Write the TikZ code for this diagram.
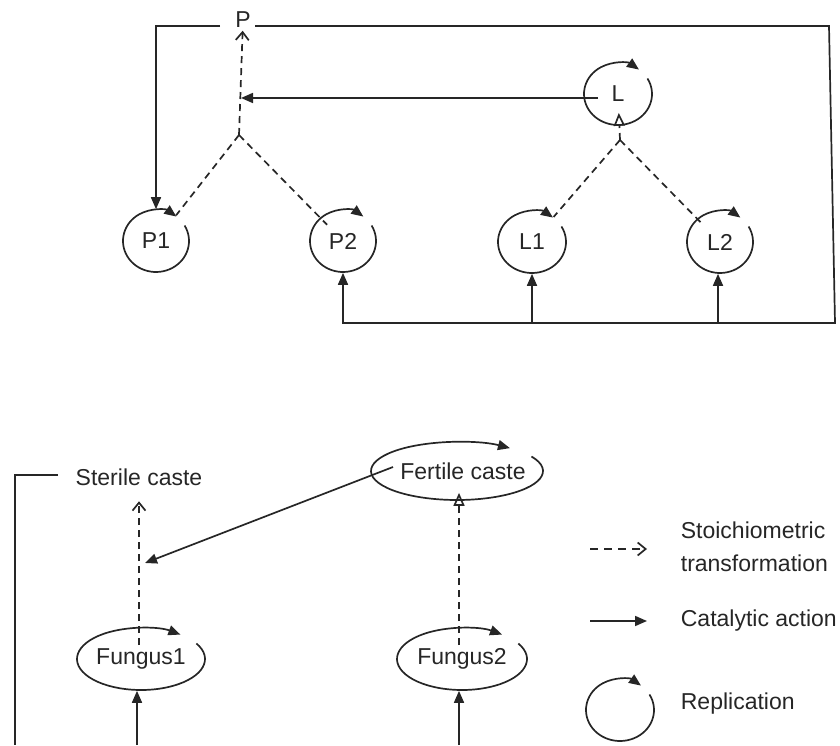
\documentclass[tikz,border=0pt]{standalone}
\usepackage{fontspec}
\setmainfont{Liberation Sans}
\usetikzlibrary{arrows.meta,shapes.geometric}

% replication loop round a node: clockwise arc with a gap at the upper right
\newcommand\replarc[3]{%
  \draw[-{Triangle[length=12pt,width=10pt]}]
    ([shift={(30:#2 and #3)}]#1.center)
    arc[start angle=30, end angle=-308, x radius=#2, y radius=#3];}

\begin{document}
\begin{tikzpicture}[x=1pt,y=1pt,
  line width=1.7pt, color=black!85,
  lbl/.style={font=\fontsize{23}{28}\selectfont, inner sep=2pt},
  rep/.style={lbl, ellipse, inner sep=0pt},
  cat/.style={draw, -{Triangle[length=12pt,width=10pt]}},
  stoich/.style={draw, dash pattern=on 7pt off 5pt},
  stoichto/.style={stoich, -{Straight Barb[length=8pt,width=13pt]}},
  stoichtri/.style={stoich, -{Triangle[open,length=13pt,width=11pt]}},
]
\useasboundingbox (0,0) rectangle (840,745);

% ---------- upper network ----------
\node[lbl] (P) at (243,725) {P};
\node[rep, minimum width=68pt, minimum height=62pt] (L)  at (618,651) {L};
\node[rep, minimum width=66pt, minimum height=62pt] (P1) at (156,504) {P1};
\node[rep, minimum width=66pt, minimum height=62pt] (P2) at (343,504) {P2};
\node[rep, minimum width=68pt, minimum height=62pt] (L1) at (532,503) {L1};
\node[rep, minimum width=66pt, minimum height=62pt] (L2) at (720,503) {L2};

\replarc{L}{34}{31}
\replarc{P1}{33}{31}
\replarc{P2}{33}{31}
\replarc{L1}{34}{31}
\replarc{L2}{33}{31}

\coordinate (bp) at (239,610);
\coordinate (pm) at (241,647);
\coordinate (bl) at (620,605);
\coordinate (pl) at (220,719);
\coordinate (pr) at (255,719);
\coordinate (tr) at (829,719);
\coordinate (br) at (835,422);

% stoichiometric transformations
\draw[stoichto] (bp) -- (P);
\draw[stoich] (bp) -- (P1);
\draw[stoich, shorten >=-10pt] (bp) -- (P2);
\draw[stoichtri, shorten >=-13pt] (bl) -- (L);
\draw[stoich] (bl) -- (L1);
\draw[stoich, shorten >=-6pt] (bl) -- (L2);

% catalytic actions
\draw[cat] ([xshift=-20pt,yshift=-4pt]L.center) -- (pm);
\draw[cat] (pl) -| (P1.north);
\draw[cat] (pr) -- (tr) -- (br) -| (P2.south);
\draw[cat] (L1.south |- br) -- (L1.south);
\draw[cat] ([xshift=-2pt]L2.south |- br) -- ([xshift=-2pt]L2.south);

% ---------- lower network ----------
\node[lbl] (S) at (139,268) {Sterile caste};
\node[rep, minimum width=172pt, minimum height=58pt] (FC) at (457,274) {\hspace*{12pt}Fertile caste};
\node[rep, minimum width=128pt, minimum height=62pt] (F1) at (141,86) {Fungus1};
\node[rep, minimum width=130pt, minimum height=62pt] (F2) at (462,86) {Fungus2};

\replarc{FC}{86}{29}
\replarc{F1}{64}{31}
\replarc{F2}{65}{31}

\coordinate (sl) at (58,270);
\coordinate (bll) at (15,0);
\coordinate (ft) at (145,182);
\coordinate (f1b) at (137,0);
\coordinate (f2b) at (459,0);

\draw (sl) -| (bll);
\draw[stoichto, shorten >=13pt] ([xshift=-2pt,yshift=14pt]F1.center) -- ([xshift=-2pt]F1.center |- S.south);
\draw[stoichtri] ([xshift=-3pt,yshift=14pt]F2.center) -- ([xshift=2pt,yshift=8pt]FC.south);
\draw[cat] ([xshift=-64pt,yshift=4pt]FC.center) -- (ft);
\draw[cat] (f1b) -- (f1b |- F1.south);
\draw[cat] (f2b) -- (f2b |- F2.south);

% ---------- legend ----------
\coordinate (la1) at (590,196);
\coordinate (la2) at (647,196);
\coordinate (lb1) at (590,124);
\coordinate (lb2) at (647,124);
\draw[stoichto, dash pattern=on 8pt off 6pt] (la1) -- (la2);
\draw[cat] (lb1) -- (lb2);
\node[rep, minimum width=68pt, minimum height=62pt] (LR) at (620,35) {};
\replarc{LR}{34}{31}

\node[lbl, anchor=west, align=left, font=\fontsize{23}{33}\selectfont] (T1) at (678,198) {Stoichiometric\\transformation};
\node[lbl, anchor=west] (T2) at (678,124) {Catalytic action};
\node[lbl, anchor=west] (T3) at (678,41) {Replication};
\end{tikzpicture}
\end{document}
